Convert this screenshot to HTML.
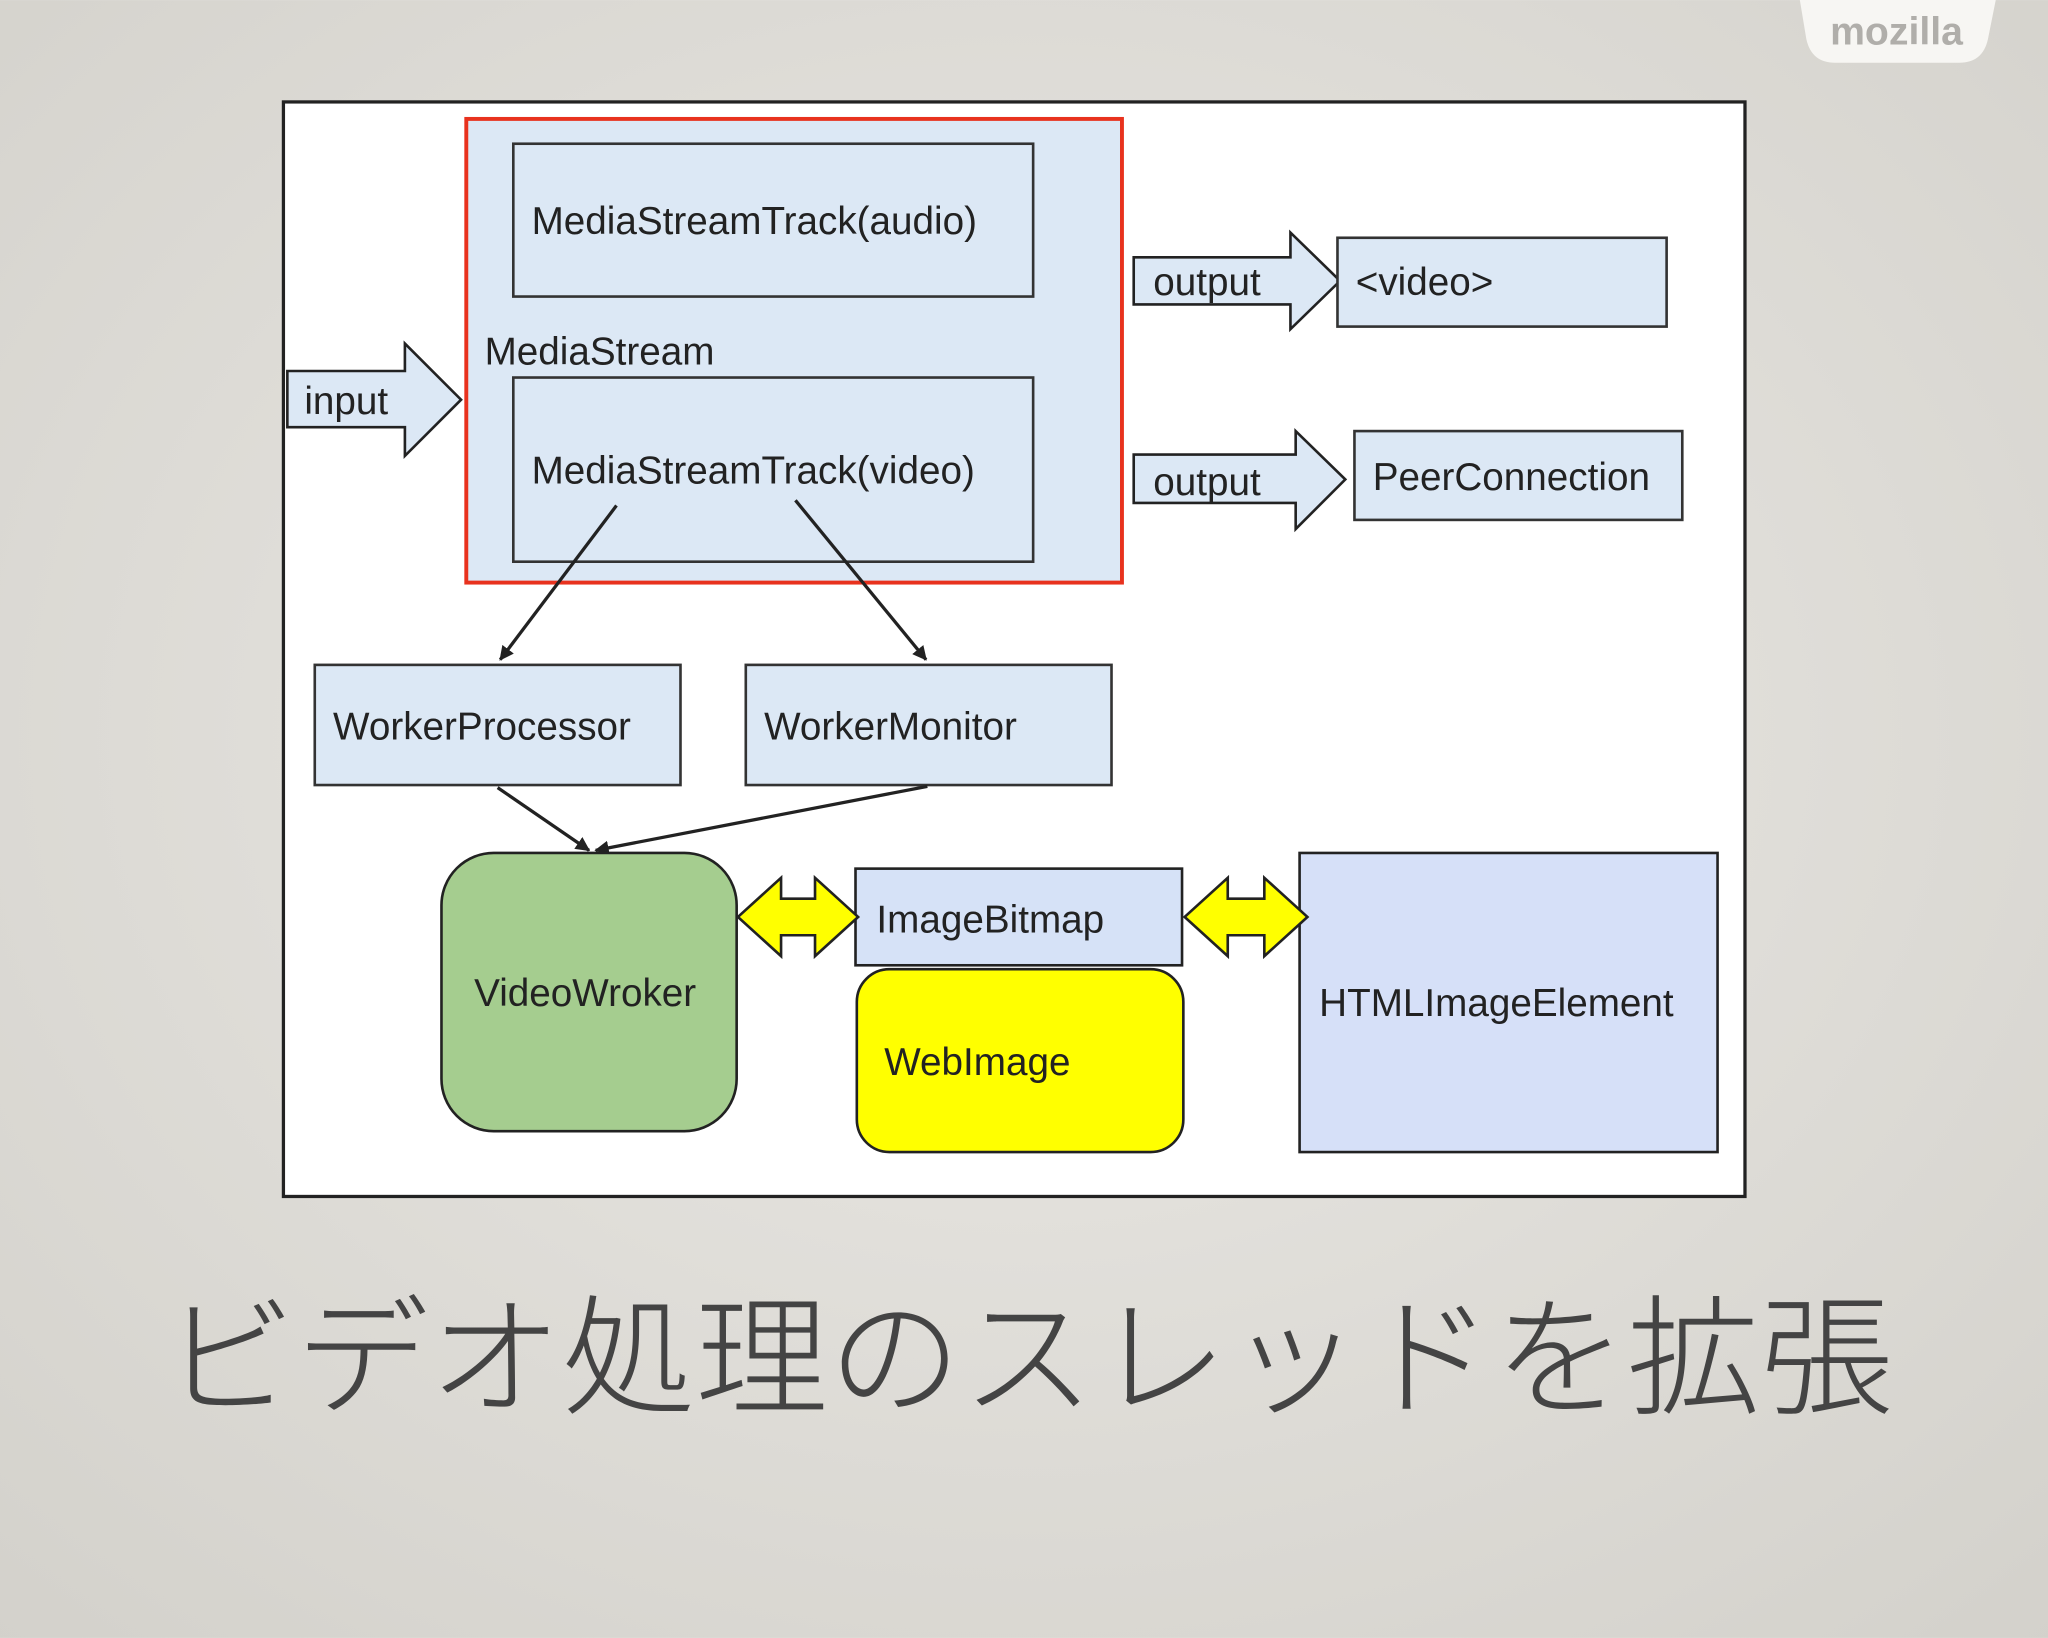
<!DOCTYPE html>
<html><head><meta charset="utf-8"><style>
html,body{margin:0;padding:0;width:2048px;height:1638px;overflow:hidden;}
svg{display:block}
.t{font-family:"Liberation Sans",Arial,sans-serif;font-size:29.6px;fill:#222}
</style></head><body>
<svg width="2048" height="1638" viewBox="0 0 1568 1254" xmlns="http://www.w3.org/2000/svg">
<defs>
<radialGradient id="bg" cx="50%" cy="45%" r="75%">
<stop offset="0" stop-color="#ebe9e5"/><stop offset="1" stop-color="#d3d1cb"/>
</radialGradient>
<marker id="ah" markerWidth="11" markerHeight="11" refX="10" refY="5.5" orient="auto" markerUnits="userSpaceOnUse">
<path d="M0,0 L11,5.5 L0,11 z" fill="#222"/></marker>
</defs>
<rect width="1568" height="1254" fill="url(#bg)"/>
<path d="M1378,0 L1528,0 L1522,30 Q1518,48 1500,48 L1405,48 Q1387,48 1383,30 Z" fill="#f7f6f3"/>
<text x="1452" y="34" text-anchor="middle" style="font-family:'Liberation Sans',sans-serif;font-weight:bold;font-size:30px;fill:#b0aeaa">mozilla</text>

<rect x="217" y="78" width="1119" height="838" fill="#fff" stroke="#222" stroke-width="2.5"/>
<rect x="357" y="91" width="502" height="355" fill="#dce8f5" stroke="#e8321e" stroke-width="3"/>
<rect x="393" y="110" width="398" height="117" fill="#dce8f5" stroke="#333" stroke-width="2"/>
<text class="t" x="407" y="179">MediaStreamTrack(audio)</text>
<text class="t" x="371" y="279">MediaStream</text>
<rect x="393" y="289" width="398" height="141" fill="#dce8f5" stroke="#333" stroke-width="2"/>
<text class="t" x="407" y="370">MediaStreamTrack(video)</text>

<polygon points="220,284 310,284 310,263 353,306 310,349 310,327 220,327" fill="#dce8f5" stroke="#222" stroke-width="2"/>
<text class="t" x="233" y="317">input</text>
<polygon points="868,197 988,197 988,178 1026,215 988,252 988,233 868,233" fill="#dce8f5" stroke="#222" stroke-width="2"/>
<text class="t" x="883" y="226">output</text>
<rect x="1024" y="182" width="252" height="68" fill="#dce8f5" stroke="#333" stroke-width="2"/>
<text class="t" x="1038" y="226">&lt;video&gt;</text>
<polygon points="868,348 992,348 992,330 1030,367 992,405 992,385 868,385" fill="#dce8f5" stroke="#222" stroke-width="2"/>
<text class="t" x="883" y="379">output</text>
<rect x="1037" y="330" width="251" height="68" fill="#dce8f5" stroke="#333" stroke-width="2"/>
<text class="t" x="1051" y="375">PeerConnection</text>

<rect x="241" y="509" width="280" height="92" fill="#dce8f5" stroke="#333" stroke-width="2"/>
<text class="t" x="255" y="566">WorkerProcessor</text>
<rect x="571" y="509" width="280" height="92" fill="#dce8f5" stroke="#333" stroke-width="2"/>
<text class="t" x="585" y="566">WorkerMonitor</text>

<g stroke="#222" stroke-width="2.5" fill="none" marker-end="url(#ah)">
<line x1="472" y1="387" x2="383" y2="505"/>
<line x1="609" y1="383" x2="709" y2="505"/>
<line x1="381" y1="603" x2="451" y2="651"/>
<line x1="710" y1="602" x2="456" y2="651"/>
</g>

<rect x="338" y="653" width="226" height="213" rx="40" fill="#a5cd8f" stroke="#222" stroke-width="2"/>
<text class="t" x="448" y="770" text-anchor="middle">VideoWroker</text>
<rect x="655" y="665" width="250" height="74" fill="#d6e2f7" stroke="#222" stroke-width="2"/>
<text class="t" x="671" y="714">ImageBitmap</text>
<rect x="656" y="742" width="250" height="140" rx="25" fill="#ffff00" stroke="#222" stroke-width="2"/>
<text class="t" x="677" y="823">WebImage</text>
<rect x="995" y="653" width="320" height="229" fill="#d6e0f8" stroke="#222" stroke-width="2"/>
<text class="t" x="1010" y="778">HTMLImageElement</text>

<polygon points="565,702 598,672 598,688 624,688 624,672 657,702 624,732 624,716 598,716 598,732" fill="#ffff00" stroke="#222" stroke-width="2"/>
<polygon points="907,702 940,672 940,688 968,688 968,672 1001,702 968,732 968,716 940,716 940,732" fill="#ffff00" stroke="#222" stroke-width="2"/>

<text x="787" y="1075" text-anchor="middle" textLength="1325" lengthAdjust="spacingAndGlyphs" style="font-family:'Liberation Sans','Noto Sans CJK JP',sans-serif;font-weight:200;font-size:100px;fill:#444">ビデオ処理のスレッドを拡張</text>
</svg>
</body></html>
